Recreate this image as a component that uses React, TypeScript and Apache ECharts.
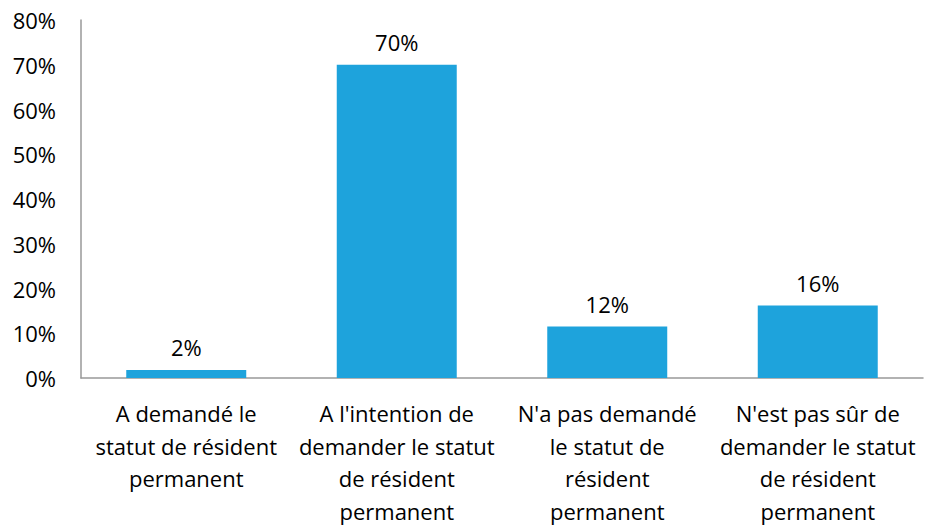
import React, { useEffect, useRef } from "react";
import * as echarts from "echarts";

const categories = [
  "A demandé le\nstatut de résident\npermanent",
  "A l'intention de\ndemander le statut\nde résident\npermanent",
  "N'a pas demandé\nle statut de\nrésident\npermanent",
  "N'est pas sûr de\ndemander le statut\nde résident\npermanent",
];
const values = [1.8, 70, 11.5, 16.2];
const valueLabels = ["2%", "70%", "12%", "16%"];
const yTicks = [0, 10, 20, 30, 40, 50, 60, 70, 80];

const FONT = "'Open Sans', 'Liberation Sans', sans-serif";

export default function App() {
  const ref = useRef<HTMLDivElement>(null);
  useEffect(() => {
    if (!ref.current) return;
    const chart = echarts.init(ref.current, null, { renderer: "svg" });
    chart.setOption({
      animation: false,
      grid: { left: 81, right: 3, top: 20, bottom: 147, containLabel: false },
      xAxis: {
        type: "category",
        data: categories,
        axisLine: { lineStyle: { color: "#999999", width: 1.5 } },
        axisTick: { show: false },
        axisLabel: {
          interval: 0,
          color: "#000",
          fontFamily: FONT,
          fontSize: 22,
          lineHeight: 32.5,
          margin: 19,
        },
      },
      yAxis: {
        type: "value",
        min: yTicks[0],
        max: yTicks[yTicks.length - 1],
        interval: 10,
        axisLine: { show: true, lineStyle: { color: "#999999", width: 1.5 } },
        axisTick: { show: false },
        splitLine: { show: false },
        axisLabel: {
          color: "#000",
          fontFamily: FONT,
          fontSize: 22,
          margin: 25,
          formatter: (v: number) => `${v}%`,
        },
      },
      series: [
        {
          type: "bar",
          data: values,
          barCategoryGap: "43%",
          itemStyle: { color: "#1EA3DC" },
          label: {
            show: true,
            position: "top",
            distance: 12,
            color: "#000",
            fontFamily: FONT,
            fontSize: 22,
            formatter: (p: any) => valueLabels[p.dataIndex],
          },
        },
      ],
    });
    return () => chart.dispose();
  }, []);
  return <div ref={ref} style={{ width: 926, height: 527, position: "absolute", left: 0, top: 0 }} />;
}
